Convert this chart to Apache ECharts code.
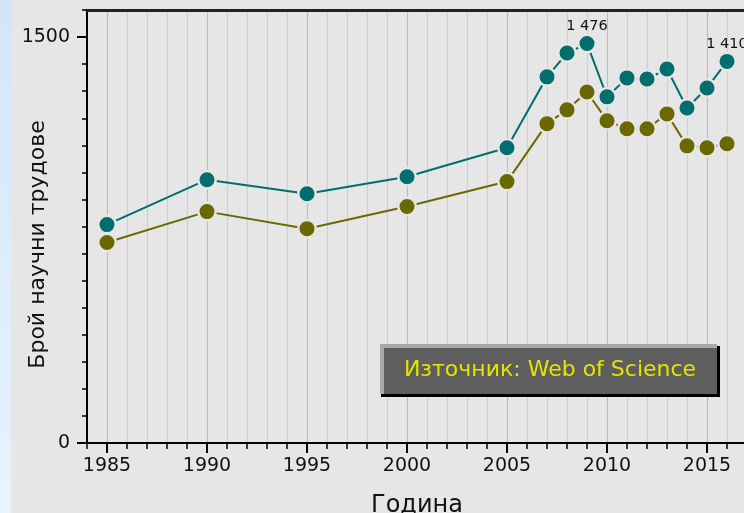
<!DOCTYPE html>
<html>
<head>
<meta charset="utf-8">
<script src="https://cdn.jsdelivr.net/npm/echarts@6/dist/echarts.min.js"></script>
<style>
  html, body { margin: 0; padding: 0; }
  #chart { width: 744px; height: 513px; }
</style>
</head>
<body>
<div id="chart"></div>
<script>
// година и брой трудове (отчетени от графиката)
var years = [1985, 1990, 1995, 2000, 2005, 2007, 2008, 2009, 2010, 2011, 2012, 2013, 2014, 2015, 2016];
var tealValues = [807, 973, 921, 984, 1091, 1353, 1441, 1476, 1279, 1349, 1345, 1382, 1238, 1312, 1410];
var oliveValues = [741, 855, 792, 874, 966, 1180, 1231, 1297, 1191, 1161, 1161, 1216, 1098, 1091, 1106];
var labelledYears = [2009, 2016];
var yLabels = [0, 1500];
var xMajor = [1985, 1990, 1995, 2000, 2005, 2010, 2015];

var font = "'DejaVu Sans', Verdana, sans-serif";
var bg = "#e6e6e6";

function buildData(values, withLabels) {
  return years.map(function (y, i) {
    var item = { value: [y, values[i]] };
    if (withLabels && labelledYears.indexOf(y) >= 0) {
      item.label = { show: true };
    }
    return item;
  });
}

var myChart = echarts.init(document.getElementById("chart"));

var option = {
  backgroundColor: bg,
  animation: false,
  textStyle: { fontFamily: font },
  grid: { left: 87, top: 10, right: -3, bottom: 70, containLabel: false, outerBoundsMode: "none" },
  graphic: [
    {
      type: "rect",
      left: 0, top: 0, z: -10,
      shape: { width: 11, height: 513 },
      style: {
        fill: new echarts.graphic.LinearGradient(0, 0, 0, 1, [
          { offset: 0, color: "#d3e5fa" },
          { offset: 1, color: "#e8f3fd" }
        ])
      }
    },
    {
      type: "group",
      left: 380, top: 344, z: 100,
      children: [
        { type: "rect", z: 100, shape: { x: 1, y: 2, width: 339, height: 51 }, style: { fill: "#000" } },
        { type: "rect", z: 101, shape: { x: 0, y: 0, width: 337, height: 50 }, style: { fill: "#a9a9a9" } },
        { type: "rect", z: 102, shape: { x: 4, y: 4, width: 333, height: 46 }, style: { fill: "#5e5e5e" } },
        {
          type: "text", z: 103,
          style: {
            x: 170, y: 26, text: "Източник: Web of Science",
            fill: "#e4e400", fontSize: 22, fontFamily: font,
            align: "center", verticalAlign: "middle"
          }
        }
      ]
    }
  ],
  xAxis: [
    {
      type: "value", min: 1984, max: 2017, interval: 1,
      name: "Година", nameLocation: "middle", nameGap: 51, nameMoveOverlap: false,
      nameTextStyle: { fontSize: 24, color: "#111" },
      axisLine: { lineStyle: { color: "#000", width: 2 } },
      axisTick: { length: 6, lineStyle: { color: "#000", width: 1.5 } },
      axisLabel: {
        fontSize: 19, color: "#111", margin: 14,
        formatter: function (v) { return xMajor.indexOf(v) >= 0 ? String(v) : ""; }
      },
      splitLine: {
        show: true,
        lineStyle: { color: ["#d0d0d0", "#bdbdbd", "#d0d0d0", "#d0d0d0", "#d0d0d0"], width: 1.2 }
      }
    },
    {
      type: "value", min: 1984, max: 2017, position: "bottom",
      axisLine: { show: false },
      axisTick: { show: true, customValues: xMajor, length: 10, lineStyle: { color: "#000", width: 2 } },
      axisLabel: { show: false },
      splitLine: { show: false }
    },
    {
      type: "value", min: 1984, max: 2017, position: "top",
      axisLine: { lineStyle: { color: "#222", width: 3 } },
      axisTick: { show: false },
      axisLabel: { show: false },
      splitLine: { show: false }
    }
  ],
  yAxis: [
    {
      type: "value", min: 0, max: 1600, interval: 100,
      name: "Брой научни трудове", nameLocation: "middle", nameGap: 38, nameMoveOverlap: false,
      nameTextStyle: { fontSize: 22, color: "#111", padding: [0, 36, 0, 0] },
      axisLine: { show: true, lineStyle: { color: "#000", width: 2 } },
      axisTick: { length: 5, lineStyle: { color: "#000", width: 1.5 } },
      axisLabel: {
        fontSize: 19, color: "#111", margin: 17,
        formatter: function (v) { return yLabels.indexOf(v) >= 0 ? String(v) : ""; }
      },
      splitLine: { show: false }
    },
    {
      type: "value", min: 0, max: 1600, position: "left",
      axisLine: { show: false },
      axisTick: { show: true, customValues: yLabels, length: 10, lineStyle: { color: "#000", width: 2 } },
      axisLabel: { show: false },
      splitLine: { show: false }
    }
  ],
  series: [
    {
      type: "line",
      data: buildData(oliveValues, false),
      symbol: "circle", symbolSize: 17.5,
      lineStyle: { color: "#6b6800", width: 2 },
      itemStyle: { color: "#6b6800", borderColor: bg, borderWidth: 2.5 },
      z: 3
    },
    {
      type: "line",
      data: buildData(tealValues, true),
      symbol: "circle", symbolSize: 17.5,
      lineStyle: { color: "#006e6c", width: 2 },
      itemStyle: { color: "#006e6c", borderColor: bg, borderWidth: 2.5 },
      label: {
        position: "top", distance: 0, fontSize: 14.5, color: "#111",
        formatter: function (p) { return String(p.value[1]).replace(/\B(?=(\d{3})+(?!\d))/g, " "); }
      },
      z: 4
    }
  ]
};

myChart.setOption(option);
</script>
</body>
</html>
